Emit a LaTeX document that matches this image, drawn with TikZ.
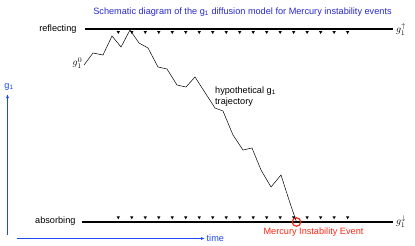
\documentclass[tikz,border=0pt]{standalone}
\usepackage{fontspec}
\setmainfont{Liberation Sans}
\usetikzlibrary{arrows.meta}
\definecolor{titleblue}{RGB}{40,40,200}
\definecolor{axisblue}{RGB}{30,70,250}
\definecolor{evred}{RGB}{250,40,20}
\tikzset{
  wall/.style={line width=2bp},
  tickmark/.style={fill=black},
  axisarrow/.style={axisblue,line width=0.8bp,-{Latex[length=4bp,width=3bp]}},
  mathlbl/.style={font=\fontsize{10}{12}\selectfont},
  traj/.style={line width=0.5bp,line join=miter}
}
\begin{document}
\begin{tikzpicture}[x=1bp,y=-1bp,font=\fontsize{9.2}{11}\selectfont]
\useasboundingbox (0,0) rectangle (415,246);
% title
\node[titleblue] (title) at (242.5,12) {Schematic diagram of the g\textsubscript{1} diffusion model for Mercury instability events};
% reflecting wall
\coordinate (rL) at (85,29.3);
\coordinate (rR) at (393,29.3);
\draw[wall] (rL) -- (rR);
\node[anchor=east] (refl) at (80,29.3) {reflecting};
\node[anchor=west,mathlbl,inner sep=1bp] (gup) at (395,29.3) {$g_1^{\uparrow}$};
\foreach \i in {0,...,17}
  \fill[tickmark] (118.3+13.49*\i-1.7,31) -- ++(3.4,0) -- ++(-1.7,3) -- cycle;
% absorbing wall
\coordinate (aL) at (82,221.5);
\coordinate (aR) at (393,221.5);
\draw[wall] (aL) -- (aR);
\node[anchor=east] (abs) at (79,221.5) {absorbing};
\node[anchor=west,mathlbl,inner sep=1bp] (gdown) at (395,221.5) {$g_1^{\downarrow}$};
\foreach \i in {0,...,17}
  \fill[tickmark] (118.3+13.49*\i-1.7,216.3) -- ++(3.4,0) -- ++(-1.7,3) -- cycle;
% start label and event
\node[anchor=east,mathlbl,inner sep=1bp] (g0) at (83.5,63) {$g_1^0$};
\node[draw=evred,circle,line width=1.2bp,minimum size=8.5bp,inner sep=0pt] (ev) at (296.5,222) {};
\node[evred] (evlbl) at (313.5,232.5) {Mercury Instability Event};
% trajectory
\draw[traj] (g0.east) ++(0.5,2) -- (93,53) -- (103,55) -- (112,36) -- (121,47) -- (130,30)
  -- (139,43) -- (148,48) -- (158,67) -- (167,69) -- (177,85) -- (186,87) -- (195,77)
  -- (215,108) -- (223,111) -- (233,135) -- (243,150) -- (252,148) -- (261,170)
  -- (271,187) -- (281,175) -- (290,203) -- (ev.center);
\node[anchor=north west,align=left,inner sep=0pt] (hyp) at (215,86.5) {hypothetical g\textsubscript{1}\\trajectory};
% axes
\coordinate (y0) at (7.5,235);
\coordinate (y1) at (7.5,94);
\draw[axisarrow] (y0) -- (y1);
\node[axisblue] (gax) at (9,87) {g\textsubscript{1}};
\coordinate (t0) at (16.5,238.5);
\coordinate (t1) at (205,238.5);
\draw[axisarrow] (t0) -- (t1);
\node[axisblue,anchor=west,inner sep=1bp] (time) at (205.5,238.5) {time};
\end{tikzpicture}
\end{document}
